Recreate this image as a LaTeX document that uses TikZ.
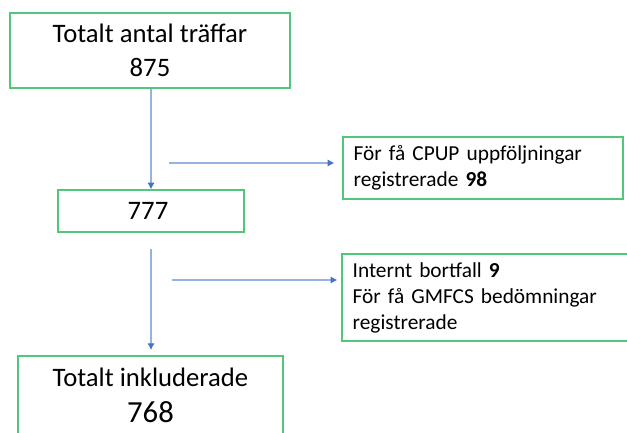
\documentclass[tikz,border=0pt]{standalone}
\usepackage{fontspec}
\setmainfont{Carlito}
\usepackage{xcolor}
\usepackage{tikz}
\usetikzlibrary{arrows.meta,positioning}
\definecolor{boxgreen}{RGB}{82,198,124}
\definecolor{linkblue}{RGB}{150,178,226}
\definecolor{tipblue}{RGB}{68,114,196}
\tikzstyle{block} = [rectangle, draw=boxgreen, line width=1.1pt, fill=white, align=center, inner sep=0pt]
\tikzstyle{bigtext} = [font=\fontsize{20}{26}\selectfont]
\tikzstyle{note} = [block, align=left, inner xsep=8pt, font=\fontsize{16}{19.5}\selectfont]
\tikzstyle{line} = [draw=linkblue, line width=0.8pt, -{Latex[length=5pt,width=5.5pt,color=tipblue]}]

\begin{document}
\begin{tikzpicture}[x=0.75pt, y=-0.75pt]
            \clip (0,0) rectangle (627,432);
            \fill[white] (0,0) rectangle (627,432);

            \node[block, bigtext, minimum width=210pt, minimum height=56.25pt] (total) at (150,50.5){
                Totalt antal träffar\\875
            };

            \node[block, bigtext, minimum width=139.5pt, minimum height=31.5pt] (remain) at (151,211){
                777
            };

            \node[note, text width=194pt, minimum height=46.5pt] (cpup) at (483,168){
                För få CPUP uppföljningar\\registrerade \textbf{98}
            };

            \node[note, text width=209pt, minimum height=65.25pt] (gmfcs) at (492,297.5){
                Internt bortfall \textbf{9}\\För få GMFCS bedömningar\\registrerade
            };

            \node[block, font=\fontsize{20}{26}\selectfont, minimum width=198.75pt, minimum height=58.5pt] (included) at (150.5,395){
                Totalt inkluderade\\[1pt]{\fontsize{23}{26}\selectfont 768}
            };

            \coordinate (split1) at (169,163);
            \coordinate (split2) at (172,280);

            \path[line] (total.south -| remain.north) -- (remain.north);
            \path[line, shorten <=12pt, shorten >=4pt] (remain.south) -- (remain.south |- included.north);
            \path[line, shorten >=6pt] (split1) -- (split1 -| cpup.west);
            \path[line, shorten >=3pt] (split2) -- (split2 -| gmfcs.west);

        \end{tikzpicture}
\end{document}
